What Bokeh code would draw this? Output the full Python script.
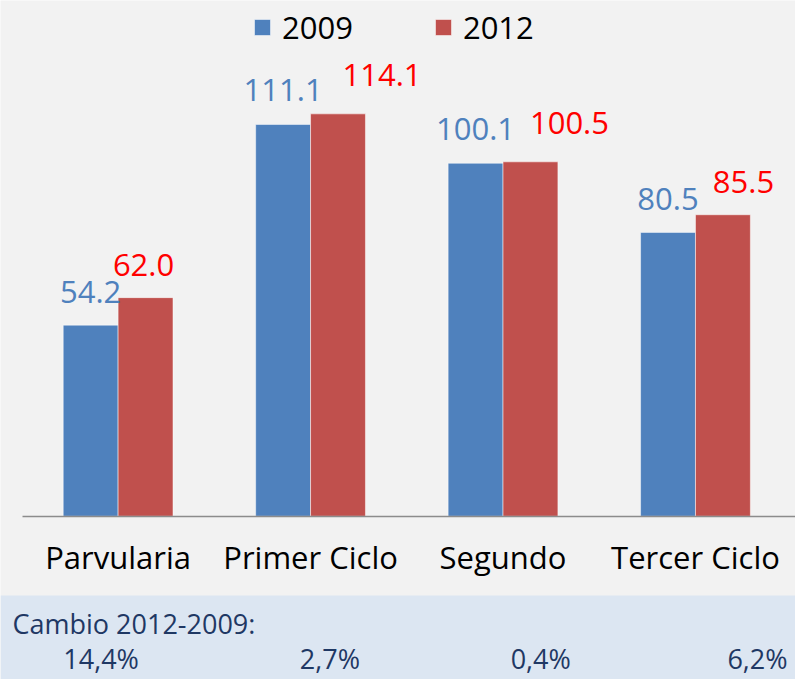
from bokeh.plotting import figure
from bokeh.models import (Range1d, FixedTicker, ColumnDataSource, Legend, LegendItem,
                          LinearAxis, BoxAnnotation, Label)
from bokeh.transform import dodge
from bokeh.core.properties import value
from bokeh.embed import file_html
from bokeh.resources import INLINE

# ---------------- data ----------------
categories = ["Parvularia", "Primer Ciclo", "Segundo Ciclo", "Tercer Ciclo"]
tick_labels = ["Parvularia", "Primer Ciclo", "Segundo\nCiclo", "Tercer Ciclo"]
series_names = ["2009", "2012"]
values_2009 = [54.2, 111.1, 100.1, 80.5]
values_2012 = [62.0, 114.1, 100.5, 85.5]
band_title = "Cambio 2012-2009:"

# ---------------- styles / layout ----------------
BLUE = "#4f81bd"
RED = "#c0504d"
RED_TEXT = "#ff0000"
BAND_TEXT = "#1f3864"
BG = "#f2f2f2"
BAND_BG = "#dce6f2"
FONT = "Open Sans"

W, H = 795, 679          # figure size
PX_CAT = 192.46          # pixels per category
PX_UNIT = 3.527          # pixels per value unit
CAT0_X = 117.6           # px of first category centre
BASE_Y = 515.8           # px (from top) of the baseline
BAND_TOP = 595           # px (from top) of band top
PCT_BASE = 668           # px (from top) of the percentage baseline
BL_FIX_31 = 12           # baseline correction for 31px text
BL_FIX_27 = 10           # baseline correction for 27px text

x_start = -CAT0_X / PX_CAT
x_end = (W - CAT0_X) / PX_CAT
y_end = BASE_Y / PX_UNIT
y_start = -(H - BASE_Y) / PX_UNIT

bar_w = 54.9 / PX_CAT
off = 27.45 / PX_CAT

blue_gap = [21.5, 22.5, 22.5, 21.5]
red_gap = [20.5, 26.4, 26.4, 20.5]
red_dx = [-2, 44, 39, 20.6]
pct_dx = [-17, 19.4, 37.7, 62]

idx = list(range(len(categories)))
change = [f"{(b / a - 1) * 100:.1f}".replace(".", ",") + "%" for a, b in zip(values_2009, values_2012)]

src = ColumnDataSource(dict(
    idx=idx, cat=categories,
    v2009=values_2009, v2012=values_2012,
    t2009=[f"{v:.1f}" for v in values_2009],
    t2012=[f"{v:.1f}" for v in values_2012],
    bgap=[-(g + BL_FIX_31) for g in blue_gap],
    rgap=[-(g + BL_FIX_31) for g in red_gap],
    rdx=red_dx,
    pct=change, pdx=pct_dx,
    band_y=[-(PCT_BASE - BL_FIX_27 - BASE_Y) / PX_UNIT] * len(idx),
))

p = figure(width=W, height=H, x_range=Range1d(x_start, x_end), y_range=Range1d(y_start, y_end),
           output_backend="svg", toolbar_location=None, x_axis_type=None, y_axis_type=None,
           min_border=0, min_border_left=0, min_border_right=0, min_border_top=0, min_border_bottom=0,
           background_fill_color=BG, border_fill_color=BG, outline_line_color=None)

r1 = p.vbar(x=dodge("idx", -off), top="v2009", width=bar_w, source=src,
            fill_color=BLUE, line_color="white", line_alpha=0.5, line_width=1)
r2 = p.vbar(x=dodge("idx", off), top="v2012", width=bar_w, source=src,
            fill_color=RED, line_color="white", line_alpha=0.5, line_width=1)

p.text(x=dodge("idx", -off), y="v2009", text="t2009", y_offset="bgap", source=src,
       text_align="center", text_baseline="alphabetic", text_color=BLUE,
       text_font=value(FONT), text_font_size="31px")
p.text(x=dodge("idx", off), y="v2012", text="t2012", y_offset="rgap", x_offset="rdx", source=src,
       text_align="center", text_baseline="alphabetic", text_color=RED_TEXT,
       text_font=value(FONT), text_font_size="31px")

xaxis = LinearAxis(fixed_location=0, ticker=FixedTicker(ticks=idx),
                   major_label_overrides={i: t for i, t in zip(idx, tick_labels)},
                   bounds=((21.6 - CAT0_X) / PX_CAT, x_end))
xaxis.major_tick_line_color = None
xaxis.minor_tick_line_color = None
xaxis.axis_line_color = "#8c8c8c"
xaxis.axis_line_width = 1.5
xaxis.major_label_text_font = FONT
xaxis.major_label_text_font_size = "31px"
xaxis.major_label_text_color = "black"
xaxis.major_label_standoff = 14
p.add_layout(xaxis, "below")

legend = Legend(items=[LegendItem(label=series_names[0], renderers=[r1]),
                       LegendItem(label=series_names[1], renderers=[r2])],
                orientation="horizontal", location=(252, 631),
                glyph_width=20, glyph_height=20, label_standoff=10, spacing=80,
                padding=0, margin=0, border_line_color=None, background_fill_alpha=0,
                label_text_font=FONT, label_text_font_size="31px", label_text_color="black")
p.add_layout(legend, "center")

band = BoxAnnotation(top=-(BAND_TOP - BASE_Y) / PX_UNIT, fill_color=BAND_BG, fill_alpha=1,
                     line_color=None)
p.add_layout(band)

p.add_layout(Label(x=12, y=H - 633 + BL_FIX_27, x_units="screen", y_units="screen", text=band_title,
                   text_font=FONT, text_font_size="27px", text_color=BAND_TEXT,
                   text_baseline="alphabetic"))

p.text(x="idx", y="band_y", text="pct", x_offset="pdx", source=src, level="overlay",
       text_align="center", text_baseline="alphabetic", text_color=BAND_TEXT,
       text_font=value(FONT), text_font_size="27px")

open("out.html", "w").write(file_html(p, INLINE))
